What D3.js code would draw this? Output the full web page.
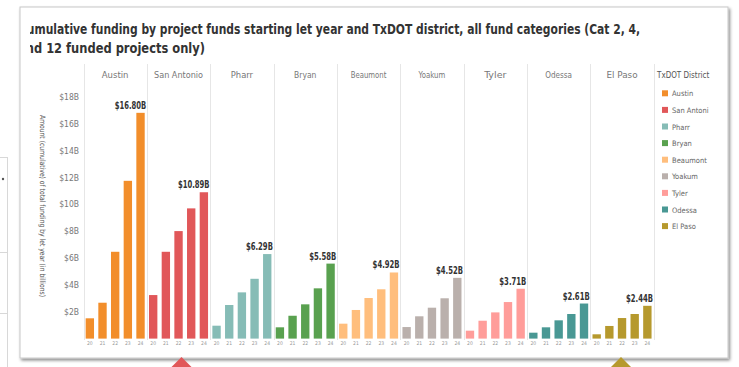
<!DOCTYPE html>
<html><head><meta charset="utf-8">
<script src="https://cdn.jsdelivr.net/npm/d3@7"></script>
<style>
html,body{margin:0;padding:0;background:#fff;}
svg{display:block;}
text{font-family:"DejaVu Sans Condensed","DejaVu Sans",sans-serif;font-stretch:condensed;}
</style></head>
<body>
<svg id="chart" width="739" height="367"></svg>
<script>
const districts = ["Austin","San Antonio","Pharr","Bryan","Beaumont","Yoakum","Tyler","Odessa","El Paso"];
const letYears = ["20","21","22","23","24"];
const austin     = [1.51, 2.67, 6.46, 11.74, 16.80];
const sanAntonio = [3.24, 6.46, 8.00, 9.69, 10.89];
const pharr      = [0.96, 2.50, 3.44, 4.45, 6.29];
const bryan      = [0.84, 1.70, 2.55, 3.74, 5.58];
const beaumont   = [1.11, 2.13, 3.02, 3.67, 4.92];
const yoakum     = [0.86, 1.66, 2.30, 3.00, 4.52];
const tyler      = [0.59, 1.33, 1.95, 2.72, 3.71];
const odessa     = [0.44, 0.84, 1.36, 1.83, 2.61];
const elPaso     = [0.32, 0.94, 1.53, 1.83, 2.44];
const seriesValues = [austin, sanAntonio, pharr, bryan, beaumont, yoakum, tyler, odessa, elPaso];
const colors = ["#F28E2B","#E15759","#86BCB6","#59A14F","#FFBE7D","#BAB0AC","#FF9D9A","#499894","#B6992D"];
const yTicks = [2,4,6,8,10,12,14,16,18];
const titleLine1 = "Cumulative funding by project funds starting let year and TxDOT district, all fund categories (Cat 2, 4,";
const titleLine2 = "and 12 funded projects only)";
const yTitle = "Amount (cumulative) of total funding by let year (in billions)";
const legendTitle = "TxDOT District";

const svg = d3.select("#chart");

// outside decorations
svg.append("rect").attr("x",0).attr("y",0).attr("width",739).attr("height",367).attr("fill","#fff");
const deco = svg.append("g").attr("stroke","#d8d8d8").attr("stroke-width",1);
deco.append("line").attr("x1",7.5).attr("x2",7.5).attr("y1",157).attr("y2",367);
deco.append("line").attr("x1",0).attr("x2",7.5).attr("y1",157.5).attr("y2",157.5);
deco.append("line").attr("x1",0).attr("x2",7.5).attr("y1",252.5).attr("y2",252.5);
deco.append("line").attr("x1",0).attr("x2",7.5).attr("y1",313.5).attr("y2",313.5);
svg.append("circle").attr("cx",3).attr("cy",179).attr("r",1.2).attr("fill","#555");

// card with shadow
const defs = svg.append("defs");
const f = defs.append("filter").attr("id","sh").attr("x","-5%").attr("y","-5%").attr("width","110%").attr("height","110%");
f.append("feDropShadow").attr("dx",1.5).attr("dy",2).attr("stdDeviation",1.5).attr("flood-color","#000").attr("flood-opacity",0.45);
svg.append("rect").attr("x",20).attr("y",7).attr("width",708).attr("height",351)
  .attr("fill","#fff").attr("stroke","#c8c8c8").attr("stroke-width",1).attr("filter","url(#sh)");

// title clipped
defs.append("clipPath").attr("id","tclip").append("rect").attr("x",30).attr("y",10).attr("width",690).attr("height",50);
const tg = svg.append("g").attr("clip-path","url(#tclip)");
tg.append("text").attr("x",19).attr("y",34).attr("font-size",13.5).attr("font-weight","bold").attr("fill","#333")
  .attr("textLength",621).attr("lengthAdjust","spacingAndGlyphs").text(titleLine1);
tg.append("text").attr("x",18).attr("y",53).attr("font-size",13.5).attr("font-weight","bold").attr("fill","#333")
  .attr("textLength",187).attr("lengthAdjust","spacingAndGlyphs").text(titleLine2);

// scales
const x0 = 83.5, x1 = 653.7, yBase = 338.6, yTop = 96.7;
const xD = d3.scaleBand().domain(districts).range([x0, x1]).padding(0);
const xY = d3.scaleBand().domain(letYears).range([0, xD.bandwidth()]).paddingInner(0.34).paddingOuter(0.17);
const y = d3.scaleLinear().domain([0,18]).range([yBase, yTop]);

// panel dividers
const dividers = districts.map(d => xD(d)).concat([x1]);
svg.append("g").selectAll("line").data(dividers).join("line")
  .attr("x1",d=>Math.round(d)+0.5).attr("x2",d=>Math.round(d)+0.5).attr("y1",64).attr("y2",340)
  .attr("stroke","#e6e6e6").attr("stroke-width",1);

// headers
svg.append("g").selectAll("text").data(districts).join("text")
  .attr("x",d=>xD(d)+xD.bandwidth()/2).attr("y",78).attr("text-anchor","middle")
  .attr("font-size",8.5).attr("fill","#777")
  .attr("textLength",d=>d.length*4.45).attr("lengthAdjust","spacingAndGlyphs").text(d=>d);

// y axis
const yAxis = svg.append("g").attr("transform","translate(80,0)")
  .call(d3.axisLeft(y).tickValues(yTicks).tickSize(0).tickPadding(1).tickFormat(d=>"$"+d+"B"));
yAxis.select(".domain").remove();
yAxis.selectAll("text").attr("font-size",8.5).attr("fill","#777").attr("font-family",null);

// y title
svg.append("text").attr("transform","translate(40,206) rotate(90)").attr("text-anchor","middle")
  .attr("font-size",7.5).attr("fill","#555").attr("textLength",182).attr("lengthAdjust","spacingAndGlyphs").text(yTitle);

// bars
districts.forEach((d,i)=>{
  const g = svg.append("g").attr("transform",`translate(${xD(d)},0)`);
  const vals = seriesValues[i];
  g.selectAll("rect").data(vals).join("rect")
    .attr("x",(v,j)=>xY(letYears[j])).attr("width",xY.bandwidth())
    .attr("y",v=>y(v)).attr("height",v=>yBase-y(v)).attr("fill",colors[i]);
  const last = vals[vals.length-1];
  const lbl = "$"+last.toFixed(2)+"B";
  g.append("text").attr("x",xY(letYears[4])+xY.bandwidth()+1.5).attr("y",y(last)-4)
    .attr("text-anchor","end").attr("font-size",10).attr("font-weight","bold").attr("fill","#333")
    .attr("textLength",lbl.length*4.5).attr("lengthAdjust","spacingAndGlyphs")
    .text(lbl);
  const ax = g.append("g").attr("transform",`translate(0,${yBase})`)
    .call(d3.axisBottom(xY).tickSize(0).tickPadding(3));
  ax.select(".domain").remove();
  ax.selectAll("text").attr("font-size",5).attr("fill","#999").attr("font-family",null);
});

// legend
const lg = svg.append("g").attr("transform","translate(657,0)");
lg.append("text").attr("x",0).attr("y",78).attr("font-size",8).attr("fill","#555").text(legendTitle);
const items = lg.selectAll("g.it").data(districts).join("g").attr("class","it")
  .attr("transform",(d,i)=>`translate(0,${93.3+i*16.6})`);
items.append("rect").attr("x",5).attr("y",-3).attr("width",6).attr("height",6).attr("fill",(d,i)=>colors[i]);
items.append("text").attr("x",15).attr("y",3).attr("font-size",7.5).attr("fill","#666")
  .text(d=>d.length>10?d.slice(0,10):d);

// triangles below the card
const tri = d3.line();
svg.append("path").attr("d",tri([[171.5,367],[181.5,357],[191.5,367]])+"Z").attr("fill","#E15759");
svg.append("path").attr("d",tri([[611,367],[621,357],[631,367]])+"Z").attr("fill","#B6992D");
</script>
</body></html>
